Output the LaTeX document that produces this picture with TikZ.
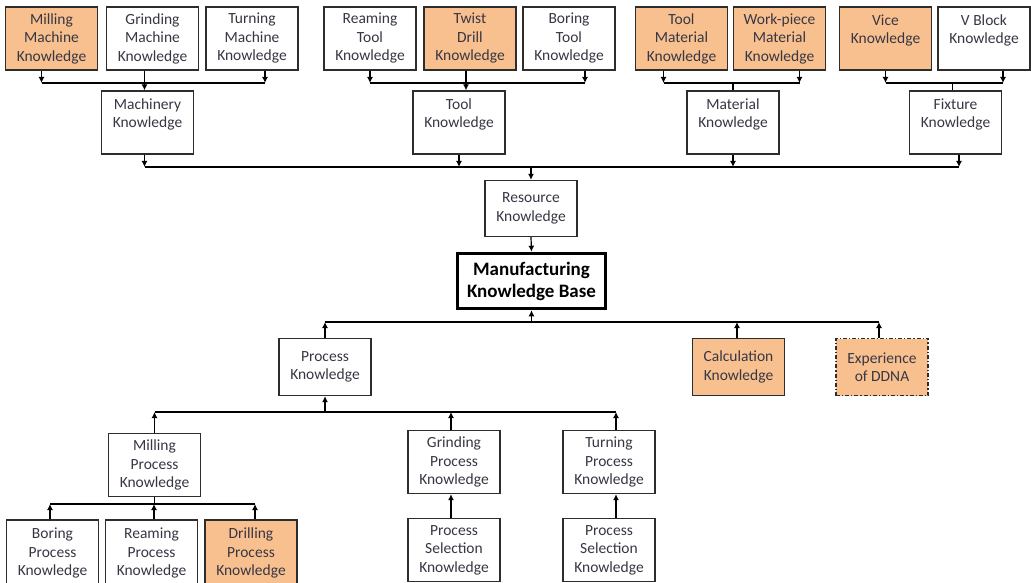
\documentclass[tikz,border=0pt]{standalone}
\usepackage{fontspec}
\setmainfont{Carlito}
\usetikzlibrary{arrows.meta}
\definecolor{orng}{RGB}{249,192,143}
\definecolor{txt}{RGB}{55,55,68}
\definecolor{boxline}{RGB}{45,45,45}
\newcommand\kfont{\fontsize{15.5}{18.5}\selectfont}

\begin{document}
\begin{tikzpicture}[x=1pt, y=-1pt,
  box/.style={draw=boxline, line width=1.3pt, fill=white, text=txt, align=center, font=\kfont, inner sep=0pt, minimum width=92pt, minimum height=63pt},
  hl/.style={box, fill=orng},
  kbase/.style={draw=black, line width=3.5pt, fill=white, align=center, inner sep=0pt, minimum width=148pt, minimum height=55pt, font=\fontsize{19}{22}\selectfont\bfseries},
  conn/.style={draw=black, line width=1.2pt},
  arr/.style={conn, -{Latex[length=6pt,width=6pt]}}]
\useasboundingbox (0,0) rectangle (1031,583);
\fill[white] (0,0) rectangle (1031,583);
\clip (0,0) rectangle (1031,583);

\node[hl] (a1) at (51.5, 38.5) {Milling\\Machine\\Knowledge};
\node[box] (a2) at (152.5, 38.5) {Grinding\\Machine\\Knowledge};
\node[box] (a3) at (252, 38.5) {Turning\\Machine\\Knowledge};
\node[box] (a4) at (370, 38.5) {Reaming\\Tool\\Knowledge};
\node[hl] (a5) at (470, 38.5) {Twist\\Drill\\Knowledge};
\node[box] (a6) at (569, 38.5) {Boring\\Tool\\Knowledge};
\node[hl] (a7) at (681.5, 38.5) {Tool\\Material\\Knowledge};
\node[hl] (a8) at (779.5, 38.5) {Work-piece\\Material\\Knowledge};
\node[hl] (a9) at (885.5, 38.5) {Vice\\Knowledge\\\mbox{}};
\node[box] (a10) at (984, 38.5) {V Block\\Knowledge\\\mbox{}};

\node[box] (b1) at (147.5, 122.5) {Machinery\\Knowledge\\\mbox{}};
\node[box] (b2) at (459, 122.5) {Tool\\Knowledge\\\mbox{}};
\node[box] (b3) at (733, 122.5) {Material\\Knowledge\\\mbox{}};
\node[box] (b4) at (955.5, 122.5) {Fixture\\Knowledge\\\mbox{}};

\node[box, minimum height=56pt] (c1) at (531, 208.5) {Resource\\Knowledge};
\node[kbase] (d1) at (531.5, 281) {Manufacturing\\Knowledge Base};

\node[box, minimum height=57pt] (e1) at (325, 367) {Process\\Knowledge};
\node[hl, minimum height=57pt] (e2) at (738.5, 367) {Calculation\\Knowledge};
\node[hl, minimum height=57pt, dash pattern=on 4pt off 2pt on 1.2pt off 2pt] (e3) at (882, 367) {Experience\\of DDNA};

\node[box] (f1) at (154.5, 465) {Milling\\Process\\Knowledge};
\node[box] (f2) at (454, 462) {Grinding\\Process\\Knowledge};
\node[box] (f3) at (609, 462) {Turning\\Process\\Knowledge};

\node[box, minimum height=66pt] (g1) at (52.5, 553) {Boring\\Process\\Knowledge};
\node[box, minimum height=66pt] (g2) at (151.5, 553) {Reaming\\Process\\Knowledge};
\node[hl, minimum height=66pt] (g3) at (251, 553) {Drilling\\Process\\Knowledge};
\node[box] (g4) at (454, 550) {Process\\Selection\\Knowledge};
\node[box] (g5) at (609, 550) {Process\\Selection\\Knowledge};

\coordinate (bus1) at (0, 83);
\coordinate (bus2) at (0, 167);
\coordinate (bus3) at (0, 322);
\coordinate (bus4) at (0, 412);
\coordinate (bus5) at (0, 504);

% machinery
\draw[arr] ([xshift=-10]a1.south) -- ([xshift=-10]a1.south |- bus1);
\draw[arr] ([xshift=13]a3.south) -- ([xshift=13]a3.south |- bus1);
\draw[conn] ([xshift=-10]a1.south |- bus1) -- ([xshift=13]a3.south |- bus1);
\draw[arr] ([xshift=-3]b1.north |- a2.south) -- ([xshift=-3]b1.north);

% tool
\draw[arr] (a4.south) -- (a4.south |- bus1);
\draw[arr] ([xshift=16]a6.south) -- ([xshift=16]a6.south |- bus1);
\draw[conn] (a4.south |- bus1) -- ([xshift=16]a6.south |- bus1);
\draw[arr] ([xshift=7]b2.north |- a5.south) -- ([xshift=7]b2.north);

% material
\draw[arr] ([xshift=-18]a7.south) -- ([xshift=-18]a7.south |- bus1);
\draw[arr] ([xshift=20]a8.south) -- ([xshift=20]a8.south |- bus1);
\draw[conn] ([xshift=-18]a7.south |- bus1) -- ([xshift=20]a8.south |- bus1);
\draw[conn] (b3.north |- bus1) -- (b3.north);

% fixture
\draw[arr] (a9.south) -- (a9.south |- bus1);
\draw[arr] ([xshift=19]a10.south) -- ([xshift=19]a10.south |- bus1);
\draw[conn] (a9.south |- bus1) -- ([xshift=19]a10.south |- bus1);
\draw[conn] ([xshift=-3]b4.north |- bus1) -- ([xshift=-3]b4.north);

% resource
\draw[arr] ([xshift=-3]b1.south) -- ([xshift=-3]b1.south |- bus2);
\draw[arr] (b2.south) -- (b2.south |- bus2);
\draw[arr] (b3.south) -- (b3.south |- bus2);
\draw[arr] ([xshift=3.5]b4.south) -- ([xshift=3.5]b4.south |- bus2);
\draw[conn] ([xshift=-3]b1.south |- bus2) -- ([xshift=3.5]b4.south |- bus2);
\draw[arr] (c1.north |- bus2) -- (c1.north);
\draw[arr] (c1.south) -- (d1.north);

% knowledge base
\draw[arr] (d1.south |- bus3) -- (d1.south);
\draw[arr] (e1.north) -- (e1.north |- bus3);
\draw[arr] ([xshift=-1.5]e2.north) -- ([xshift=-1.5]e2.north |- bus3);
\draw[arr] ([xshift=-3]e3.north) -- ([xshift=-3]e3.north |- bus3);
\draw[conn] (e1.north |- bus3) -- ([xshift=-3]e3.north |- bus3);

% process
\draw[arr] (e1.south |- bus4) -- (e1.south);
\draw[arr] (f1.north) -- (f1.north |- bus4);
\draw[arr] ([xshift=-3]f2.north) -- ([xshift=-3]f2.north |- bus4);
\draw[arr] ([xshift=7]f3.north) -- ([xshift=7]f3.north |- bus4);
\draw[conn] (f1.north |- bus4) -- ([xshift=7]f3.north |- bus4);
\draw[arr] ([xshift=-3]g4.north) -- ([xshift=-3]f2.south);
\draw[arr] ([xshift=7]g5.north) -- ([xshift=7]f3.south);

% milling process
\draw[arr] ([xshift=-2.5]g1.north) -- ([xshift=-2.5]g1.north |- bus5);
\draw[arr] ([xshift=2.5]g2.north) -- ([xshift=2.5]g2.north |- bus5);
\draw[arr] ([xshift=4]g3.north) -- ([xshift=4]g3.north |- bus5);
\draw[conn] ([xshift=-2.5]g1.north |- bus5) -- ([xshift=4]g3.north |- bus5);
\draw[conn] (f1.south) -- (f1.south |- bus5);
\end{tikzpicture}
\end{document}
